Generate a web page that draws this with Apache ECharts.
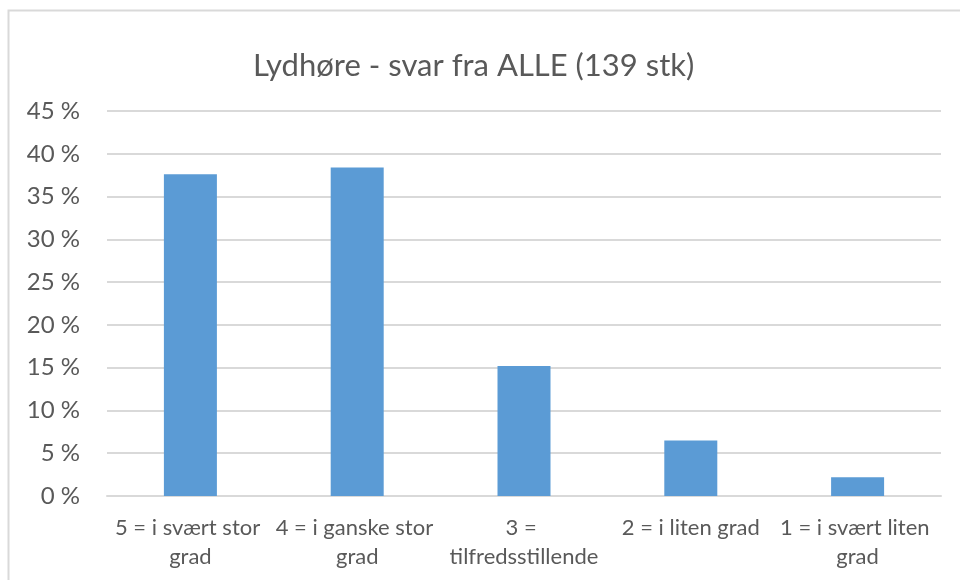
<!DOCTYPE html>
<html>
<head>
<meta charset="utf-8">
<title>Lydhøre</title>
<script src="https://cdn.jsdelivr.net/npm/echarts@6/dist/echarts.min.js"></script>
<style>
  html, body { margin: 0; padding: 0; background: #fff; }
  #chart { width: 960px; height: 580px; }
</style>
</head>
<body>
<div id="chart"></div>
<script>
// svaralternativer
const categories = [
  '5 = i svært stor grad',
  '4 = i ganske stor grad',
  '3 = tilfredsstillende',
  '2 = i liten grad',
  '1 = i svært liten grad'
]
// andel svar, prosent
const shares = [37.6, 38.4, 15.2, 6.5, 2.2]
const yTicks = { min: 0, max: 45, step: 5 }

const textColor = '#595959'
const lineColor = '#d9d9d9'
const font = 'Lato, "Open Sans", sans-serif'

const myChart = echarts.init(document.getElementById('chart'))

const option = {
  animation: false,
  title: {
    text: 'Lydhøre - svar fra ALLE (139 stk)',
    left: 248,
    top: 45,
    textStyle: { color: textColor, fontFamily: font, fontSize: 31, fontWeight: 'normal' }
  },
  graphic: [{
    type: 'rect',
    shape: { x: 8.5, y: 10.5, width: 1000, height: 1000 },
    style: { fill: 'none', stroke: lineColor, lineWidth: 2 },
    silent: true
  }],
  grid: { left: 107, right: 19, top: 111, bottom: 84 },
  xAxis: {
    type: 'category',
    data: categories,
    axisTick: { show: false },
    axisLine: { lineStyle: { color: lineColor, width: 2 } },
    axisLabel: {
      interval: 0,
      margin: 17,
      color: textColor,
      fontFamily: font,
      fontSize: 22,
      lineHeight: 29,
      width: 164,
      overflow: 'break'
    }
  },
  yAxis: {
    type: 'value',
    min: yTicks.min,
    max: yTicks.max,
    interval: yTicks.step,
    axisLine: { show: false },
    axisTick: { show: false },
    splitLine: { lineStyle: { color: lineColor, width: 2 } },
    axisLabel: {
      margin: 27,
      color: textColor,
      fontFamily: font,
      fontSize: 24,
      formatter: '{value} %'
    }
  },
  series: [{
    type: 'bar',
    data: shares,
    barWidth: 53,
    itemStyle: { color: '#5b9bd5' }
  }]
}

myChart.setOption(option)
window.addEventListener('resize', () => myChart.resize())
</script>
</body>
</html>
